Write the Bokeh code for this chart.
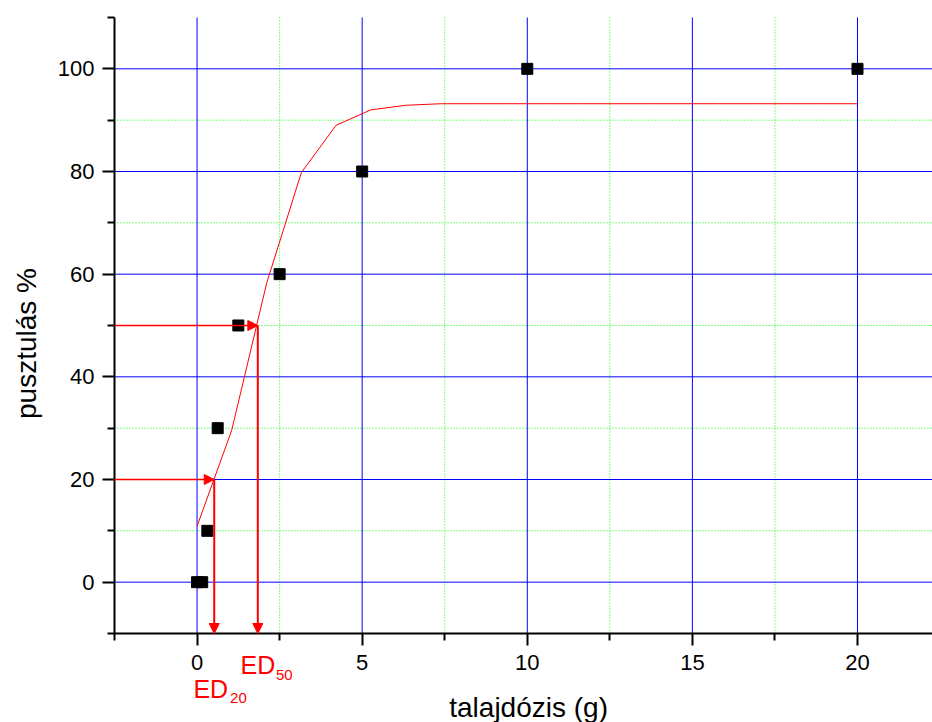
import math
from bokeh.plotting import figure
from bokeh.models import Range1d, FixedTicker, Arrow, NormalHead, Label, ColumnDataSource
from bokeh.embed import file_html
from bokeh.resources import INLINE

# ---- data ----
dose = [0, 0.156, 0.3125, 0.625, 1.25, 2.5, 5, 10, 20]
mortality = [0, 0, 10, 30, 50, 60, 80, 100, 100]

fit_x = [0, 1.05, 2.11, 3.16, 4.21, 5.26, 6.32, 7.37, 8.42, 9.47, 10.53,
         11.58, 12.63, 13.68, 14.74, 15.79, 16.84, 17.89, 18.95, 20]
fit_y = [10.9, 29.6, 58.3, 79.8, 89.0, 92.0, 92.9, 93.2, 93.2, 93.2, 93.2,
         93.2, 93.2, 93.2, 93.2, 93.2, 93.2, 93.2, 93.2, 93.2]

ed_levels = [20, 50]
ed_doses = [0.52, 1.84]
ed_names = ["20", "50"]

x_major = [0, 5, 10, 15, 20]
x_minor = [-2.5, 2.5, 7.5, 12.5, 17.5]
y_major = [0, 20, 40, 60, 80, 100]
y_minor = [-10, 10, 30, 50, 70, 90, 110]

# axes extents (data)
AX_X0 = -2.5
AX_Y0, AX_Y1 = -10, 110

# ---- layout (pixels) ----
W, H = 932, 722
AXIS_LEFT_PX, AXIS_TOP_PX = 114, 17
XPX = 33.022   # pixels per x unit
YPX = 5.1333   # pixels per y unit
X_LO = AX_X0 - AXIS_LEFT_PX / XPX
X_HI = AX_X0 + (W - AXIS_LEFT_PX) / XPX
Y_HI = AX_Y1 + AXIS_TOP_PX / YPX
Y_LO = AX_Y1 - (H - AXIS_TOP_PX) / YPX

FONT = "Liberation Sans"
BLUE = "#0000FF"
GREEN = "#00FF00"
RED = "#FF0000"

p = figure(width=W, height=H, x_range=Range1d(X_LO, X_HI), y_range=Range1d(Y_LO, Y_HI),
           output_backend="svg", toolbar_location=None,
           min_border_left=0, min_border_right=0, min_border_top=0, min_border_bottom=0)
p.outline_line_color = None
p.background_fill_color = "white"
p.border_fill_color = "white"
p.xgrid.visible = False
p.ygrid.visible = False

# axes (placed at fixed data locations)
for ax in (p.xaxis[0], p.yaxis[0]):
    ax.axis_line_width = 2
    ax.axis_line_color = "black"
    ax.major_tick_line_width = 2
    ax.minor_tick_line_width = 2
    ax.major_tick_out = 12
    ax.major_tick_in = 0
    ax.minor_tick_out = 7
    ax.minor_tick_in = 0
    ax.major_label_text_font = FONT
    ax.major_label_text_font_size = "22px"
    ax.major_label_text_color = "black"
    ax.axis_label = None

p.xaxis.fixed_location = AX_Y0
p.yaxis.fixed_location = AX_X0
p.xaxis.bounds = (AX_X0, X_HI)
p.yaxis.bounds = (AX_Y0, AX_Y1)
p.xaxis.ticker = FixedTicker(ticks=x_major, minor_ticks=x_minor)
p.yaxis.ticker = FixedTicker(ticks=y_major, minor_ticks=y_minor)
p.xaxis.major_label_standoff = 10
p.yaxis.major_label_standoff = 8

# grid lines, bounded to the axes box
gx_minor = [v for v in x_minor if v > AX_X0]
gy_minor = [v for v in y_minor if AX_Y0 < v < AX_Y1]
p.segment(x0=gx_minor, y0=[AX_Y0] * len(gx_minor), x1=gx_minor, y1=[AX_Y1] * len(gx_minor),
          line_color=GREEN, line_width=1, line_dash="1 2")
p.segment(x0=[AX_X0] * len(gy_minor), y0=gy_minor, x1=[X_HI] * len(gy_minor), y1=gy_minor,
          line_color=GREEN, line_width=1, line_dash="1 2")
p.segment(x0=x_major, y0=[AX_Y0] * len(x_major), x1=x_major, y1=[AX_Y1] * len(x_major),
          line_color=BLUE, line_width=1)
p.segment(x0=[AX_X0] * len(y_major), y0=y_major, x1=[X_HI] * len(y_major), y1=y_major,
          line_color=BLUE, line_width=1)

# fitted curve
p.line(x=fit_x, y=fit_y, line_color=RED, line_width=1)

# data points
src = ColumnDataSource(dict(x=dose, y=mortality))
p.scatter(x="x", y="y", source=src, marker="square", size=11,
          fill_color="black", line_color="black")

# ED arrows
for lvl, d in zip(ed_levels, ed_doses):
    p.add_layout(Arrow(end=NormalHead(size=10, fill_color=RED, line_color=RED, line_width=1),
                       x_start=AX_X0, y_start=lvl, x_end=d, y_end=lvl,
                       line_color=RED, line_width=1.5))
    p.add_layout(Arrow(end=NormalHead(size=10, fill_color=RED, line_color=RED, line_width=1),
                       x_start=d, y_start=lvl, x_end=d, y_end=AX_Y0,
                       line_color=RED, line_width=2))

# ED labels (below the axis)
ed_label_pos = {"20": ((-0.11, -20.73), (1.0, -22.47)),
                "50": ((1.315, -16.23), (2.39, -18.18))}
for name in ed_names:
    (mx, my), (sx, sy) = ed_label_pos[name]
    p.add_layout(Label(x=mx, y=my, text="ED", text_font=FONT, text_font_size="25px",
                       text_color=RED, text_align="left", text_baseline="alphabetic"))
    p.add_layout(Label(x=sx, y=sy, text=name, text_font=FONT, text_font_size="15px",
                       text_color=RED, text_align="left", text_baseline="alphabetic"))

# axis titles
p.add_layout(Label(x=-5.165, y=46.49, text="pusztulás %", angle=math.pi / 2,
                   text_font=FONT, text_font_size="28px", text_color="black",
                   text_align="center", text_baseline="middle"))
p.add_layout(Label(x=10.04, y=-24.41, text="talajdózis (g)",
                   text_font=FONT, text_font_size="28px", text_color="black",
                   text_align="center", text_baseline="alphabetic"))

open("out.html", "w").write(file_html(p, INLINE))
